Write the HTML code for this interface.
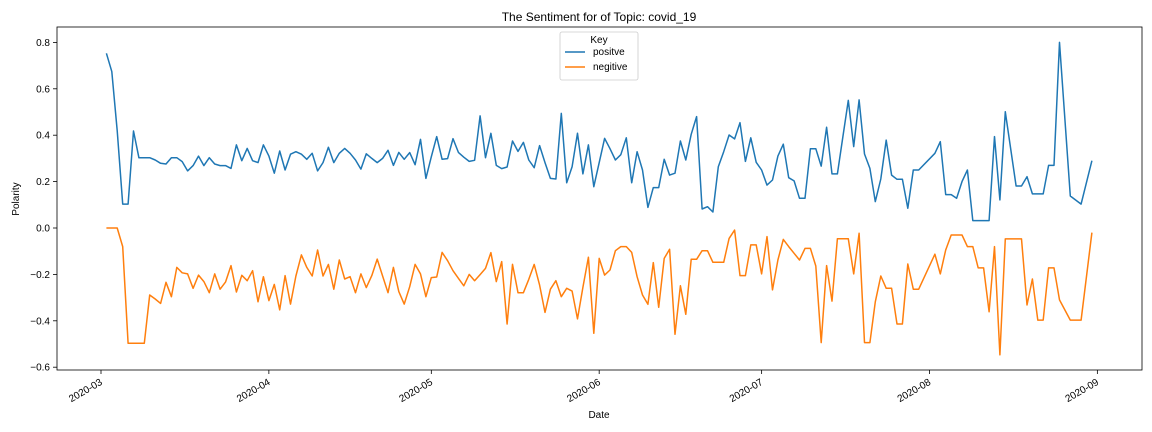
<!DOCTYPE html>
<html><head><meta charset="utf-8"><style>
html,body{margin:0;padding:0;background:#fff;}
svg{display:block;font-family:"Liberation Sans","DejaVu Sans",sans-serif;}
</style></head><body>
<svg id="chart" width="1152" height="432" viewBox="0 0 1152 432">
<rect x="0" y="0" width="1152" height="432" fill="#fff"/>
<text x="599" y="21" font-size="12" text-anchor="middle" fill="#000">The Sentiment for of Topic: covid_19</text>
<text x="19" y="199" font-size="10" text-anchor="middle" transform="rotate(-90 19 199)">Polarity</text>
<text x="599" y="418" font-size="10" text-anchor="middle">Date</text>
<g id="plot"></g>
</svg>
<script>
const blueDays=[];const blueVals=[0.753,0.674,0.42,0.103,0.103,0.418,0.303,0.303,0.303,0.293,0.279,0.276,0.303,0.303,0.286,0.246,0.269,0.310,0.269,0.303,0.276,0.269,0.269,0.257,0.358,0.290,0.343,0.290,0.282,0.358,0.310,0.236,0.332,0.250,0.318,0.329,0.318,0.296,0.322,0.246,
0.282,0.348,0.282,0.322,0.343,0.322,0.293,0.254,0.320,0.300,0.282,0.300,0.335,0.270,0.326,0.296,0.325,0.273,0.382,0.214,0.307,0.394,0.296,0.299,0.385,0.326,0.305,0.287,0.292,0.483,0.303,0.408,0.270,0.256,0.263,0.375,0.330,0.369,0.293,0.260,0.355,0.282,0.214,0.211,0.494,0.195,0.264,0.408,0.233,0.358,0.178,0.282,0.386,0.342,0.293,0.316,
0.389,0.195,0.329,0.250,0.089,0.174,0.174,0.296,0.228,0.236,0.375,0.293,0.404,0.480,0.082,0.092,0.069,0.264,0.329,0.401,0.384,0.454,0.287,0.389,0.283,0.250,0.185,0.207,0.310,0.361,0.217,0.203,0.128,0.128,0.342,0.342,0.267,0.434,0.233,0.233,0.394,0.550,0.351,0.552,0.319,0.257,0.114,0.211,0.379,0.228,0.210,
0.210,0.085,0.250,0.250,0.322,0.372,0.144,0.144,0.128,0.200,0.250,0.032,0.032,0.032,0.032,0.394,0.121,0.501,0.181,0.181,0.221,0.147,0.147,0.147,0.270,0.270,0.800,0.138,0.103,0.290];
const orangeVals=[0,0,0,-0.08,-0.497,-0.497,-0.497,-0.497,-0.289,-0.306,-0.325,-0.234,-0.296,-0.17,-0.193,-0.198,-0.26,-0.203,-0.231,-0.279,-0.198,-0.264,-0.233,-0.162,-0.276,-0.204,-0.227,-0.184,-0.318,-0.21,-0.313,-0.243,-0.353,-0.205,-0.328,-0.207,-0.116,-0.17,-0.207,-0.095,
-0.207,-0.157,-0.264,-0.138,-0.220,-0.210,-0.279,-0.198,-0.257,-0.205,-0.134,-0.207,-0.279,-0.17,-0.274,-0.328,-0.253,-0.157,-0.198,-0.296,-0.214,-0.211,-0.105,-0.141,-0.184,-0.217,-0.249,-0.2,-0.227,-0.201,-0.174,-0.106,-0.231,-0.145,-0.414,-0.157,-0.279,-0.279,-0.221,-0.157,-0.246,-0.364,-0.264,-0.227,-0.296,-0.26,-0.272,-0.392,-0.256,-0.126,-0.454,-0.131,-0.203,-0.181,-0.098,-0.08,
-0.08,-0.105,-0.21,-0.289,-0.329,-0.149,-0.342,-0.131,-0.092,-0.458,-0.249,-0.372,-0.135,-0.135,-0.098,-0.098,-0.148,-0.148,-0.148,-0.045,-0.009,-0.205,-0.205,-0.073,-0.073,-0.198,-0.037,-0.267,-0.138,-0.049,-0.08,-0.109,-0.138,-0.088,-0.088,-0.164,-0.494,-0.162,-0.315,-0.046,-0.046,-0.046,-0.198,-0.023,-0.494,-0.494,-0.318,-0.207,-0.26,-0.26,-0.414,
-0.414,-0.155,-0.264,-0.264,-0.113,-0.198,-0.095,-0.03,-0.03,-0.03,-0.08,-0.08,-0.172,-0.172,-0.361,-0.08,-0.547,-0.047,-0.047,-0.047,-0.332,-0.22,-0.397,-0.397,-0.172,-0.172,-0.31,-0.397,-0.397,-0.02];
const skipDays=[151,152,167,177,179,181];
const yTicks=[0.8,0.6,0.4,0.2,0.0,-0.2,-0.4,-0.6];
const xTickDays=[0,31,61,92,122,153,184];
const xTickLabels=["2020-03","2020-04","2020-05","2020-06","2020-07","2020-08","2020-09"];
(function(){for(let d=0,n=0;n<blueVals.length;d++){if(skipDays.indexOf(d)<0){blueDays.push(d+1);n++;}}})();
const L=57,R=1142,T=27,B=370;
function xScale(day){return 101+day*5.415;}
function yScale(v){return 228-v*232;}
const NS="http://www.w3.org/2000/svg";
const g=document.getElementById('plot');
function el(tag,attrs,parent){const e=document.createElementNS(NS,tag);for(const k in attrs)e.setAttribute(k,attrs[k]);(parent||g).appendChild(e);return e;}
yTicks.forEach(v=>{const y=yScale(v);
 const t=el('line',{x1:L-4,x2:L,y1:y,y2:y,stroke:'#000','stroke-width':0.8});
 
 
 const tx=el('text',{x:L-7,y:y+3.5,'font-size':10,'text-anchor':'end'});
 tx.textContent=(v<0?'\u2212':'')+Math.abs(v).toFixed(1);
 
 
});
xTickDays.forEach((d,i)=>{const x=xScale(d);
 const t=el('line',{x1:x,x2:x,y1:B,y2:B+4,stroke:'#000','stroke-width':0.8});
 
 
 const tx=el('text',{x:x+2,y:B+14,'font-size':10,'text-anchor':'end',transform:`rotate(-30 ${x+2} ${B+14})`});
 tx.textContent=xTickLabels[i];
 
 
});
function line(vals,color,name){const pts=vals.map((v,i)=>xScale(blueDays[i]).toFixed(1)+','+yScale(v).toFixed(1)).join(' ');
 const p=el('polyline',{points:pts,fill:'none',stroke:color,'stroke-width':1.5,'stroke-linejoin':'round'});
 
 }
line(blueVals,'#1f77b4','positive-series-line');
line(orangeVals,'#ff7f0e','negative-series-line');
const frame=el('rect',{x:L,y:T,width:R-L,height:B-T,fill:'none',stroke:'#000','stroke-width':0.8});


const lg=el('g',{});


el('rect',{x:560,y:32,width:78,height:48,rx:2,fill:'#fff',stroke:'#ccc','stroke-width':0.8},lg);
const kt=el('text',{x:599,y:43,'font-size':10,'text-anchor':'middle'},lg);kt.textContent='Key';


[['positve','#1f77b4',55],['negitive','#ff7f0e',70]].forEach(([lab,c,y])=>{
 const ln=el('line',{x1:565,x2:585,y1:y-3,y2:y-3,stroke:c,'stroke-width':1.5},lg);
 
 
 const t=el('text',{x:593,y:y,'font-size':10},lg);t.textContent=lab;
 
 
});
</script>
</body></html>
